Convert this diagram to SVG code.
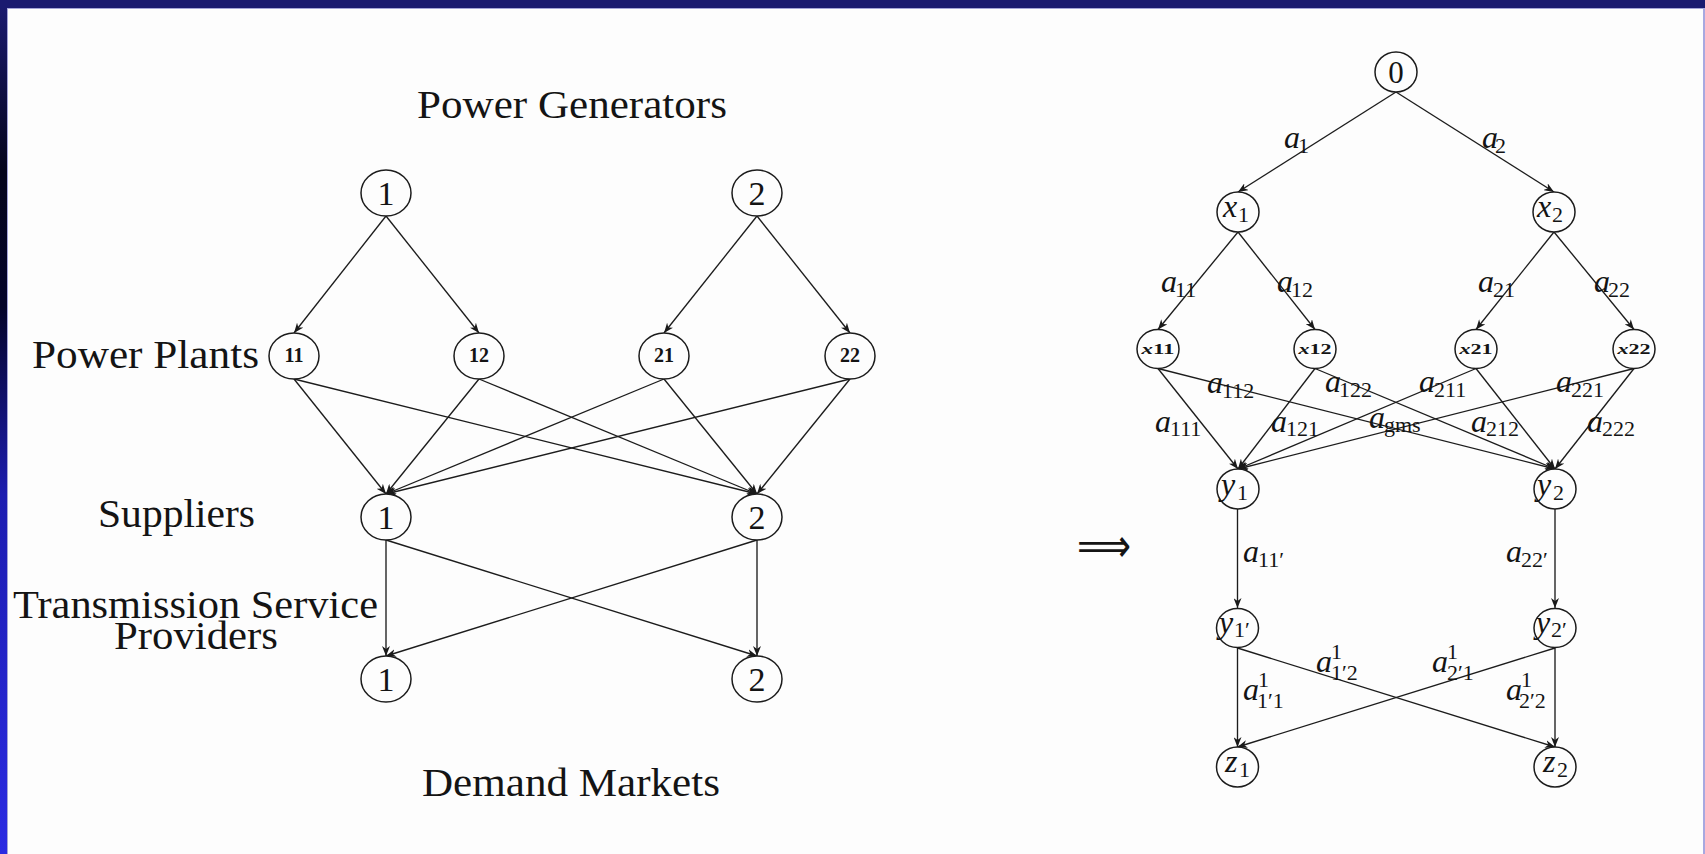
<svg xmlns="http://www.w3.org/2000/svg" width="1705" height="854" viewBox="0 0 1705 854">
  <defs>
    <linearGradient id="sideGrad" x1="0" y1="0" x2="0" y2="1">
      <stop offset="0" stop-color="#1b1b72"/>
      <stop offset="0.2" stop-color="#05051c"/>
      <stop offset="0.36" stop-color="#04042a"/>
      <stop offset="0.58" stop-color="#1d1db0"/>
      <stop offset="1" stop-color="#2b2be2"/>
    </linearGradient>
    <marker id="ah" viewBox="0 0 10 8" refX="10" refY="4" markerWidth="10" markerHeight="8" markerUnits="userSpaceOnUse" orient="auto">
      <path d="M0,0 L10,4 L0,8 L3,4 z" fill="#1a1a1a"/>
    </marker>
    <style>
      .nd { fill: #fdfdfd; stroke: #1c1c1c; stroke-width: 1.5; }
      .e { fill: none; stroke: #1c1c1c; stroke-width: 1.35; marker-end: url(#ah); }
      text { font-family: "Liberation Serif", "DejaVu Serif", serif; fill: #141414; }
      .cat { font-size: 40px; }
      .num { font-size: 34px; text-anchor: middle; }
      .tiny { font-size: 20px; font-weight: bold; text-anchor: middle; }
      .tinyx { font-size: 15px; font-weight: bold; text-anchor: middle; }
      .mi { font-size: 32px; font-style: italic; }
      .rm { font-size: 31px; text-anchor: middle; }
      .sb { font-size: 22px; }
      .arrow { font-family: "DejaVu Sans", sans-serif; font-size: 48px; }
    </style>
  </defs>

  <!-- page background and frame -->
  <rect x="0" y="0" width="1705" height="854" fill="#fdfdfd"/>
  <rect x="0" y="0" width="7" height="854" fill="url(#sideGrad)"/>
  <rect x="0" y="0" width="1705" height="8" fill="#1a1a70"/>
  <rect x="7" y="8" width="1" height="846" fill="#a4a4d8"/>
  <rect x="7" y="8" width="1698" height="1" fill="#a4a4d8"/>
  <rect x="1703" y="8" width="2" height="846" fill="#a8a8e0"/>

  <!-- layer captions of the supply chain network -->
  <g id="captions">
    <text class="cat" x="417" y="118" textLength="310" lengthAdjust="spacingAndGlyphs">Power Generators</text>
    <text class="cat" x="32" y="368" textLength="227" lengthAdjust="spacingAndGlyphs">Power Plants</text>
    <text class="cat" x="98" y="527" textLength="157" lengthAdjust="spacingAndGlyphs">Suppliers</text>
    <text class="cat" x="13" y="618" textLength="365" lengthAdjust="spacingAndGlyphs">Transmission Service</text>
    <text class="cat" x="114" y="649" textLength="164" lengthAdjust="spacingAndGlyphs">Providers</text>
    <text class="cat" x="422" y="796" textLength="298" lengthAdjust="spacingAndGlyphs">Demand Markets</text>
    <text class="arrow" x="1077" y="562" textLength="54" lengthAdjust="spacingAndGlyphs">⟹</text>
  </g>

  <!-- connectors -->
  <g id="connectors">
    <!-- left network -->
    <line class="e" x1="386" y1="216" x2="294" y2="333"/>
    <line class="e" x1="386" y1="216" x2="479" y2="333"/>
    <line class="e" x1="757" y1="216" x2="664" y2="333"/>
    <line class="e" x1="757" y1="216" x2="850" y2="333"/>
    <line class="e" x1="294" y1="379" x2="386" y2="494"/>
    <line class="e" x1="294" y1="379" x2="757" y2="494"/>
    <line class="e" x1="479" y1="379" x2="386" y2="494"/>
    <line class="e" x1="479" y1="379" x2="757" y2="494"/>
    <line class="e" x1="664" y1="379" x2="386" y2="494"/>
    <line class="e" x1="664" y1="379" x2="757" y2="494"/>
    <line class="e" x1="850" y1="379" x2="386" y2="494"/>
    <line class="e" x1="850" y1="379" x2="757" y2="494"/>
    <line class="e" x1="386" y1="540" x2="386" y2="656"/>
    <line class="e" x1="386" y1="540" x2="757" y2="656"/>
    <line class="e" x1="757" y1="540" x2="386" y2="656"/>
    <line class="e" x1="757" y1="540" x2="757" y2="656"/>
    <!-- right network -->
    <line class="e" x1="1396" y1="92" x2="1238" y2="192"/>
    <line class="e" x1="1396" y1="92" x2="1554" y2="192"/>
    <line class="e" x1="1238" y1="232" x2="1158" y2="329.5"/>
    <line class="e" x1="1238" y1="232" x2="1315" y2="329.5"/>
    <line class="e" x1="1554" y1="232" x2="1476" y2="329.5"/>
    <line class="e" x1="1554" y1="232" x2="1634" y2="329.5"/>
    <line class="e" x1="1158" y1="368.5" x2="1238" y2="469"/>
    <line class="e" x1="1158" y1="368.5" x2="1555" y2="469"/>
    <line class="e" x1="1315" y1="368.5" x2="1238" y2="469"/>
    <line class="e" x1="1315" y1="368.5" x2="1555" y2="469"/>
    <line class="e" x1="1476" y1="368.5" x2="1238" y2="469"/>
    <line class="e" x1="1476" y1="368.5" x2="1555" y2="469"/>
    <line class="e" x1="1634" y1="368.5" x2="1238" y2="469"/>
    <line class="e" x1="1634" y1="368.5" x2="1555" y2="469"/>
    <line class="e" x1="1237.5" y1="509" x2="1237.5" y2="608"/>
    <line class="e" x1="1555" y1="509" x2="1555" y2="608"/>
    <line class="e" x1="1237.5" y1="648" x2="1237.5" y2="747"/>
    <line class="e" x1="1237.5" y1="648" x2="1555" y2="747"/>
    <line class="e" x1="1555" y1="648" x2="1237.5" y2="747"/>
    <line class="e" x1="1555" y1="648" x2="1555" y2="747"/>
  </g>

  <!-- edge labels of the right network -->
  <g id="edge-labels">
    <text class="mi" x="1284" y="148">a</text><text class="sb" x="1298" y="153">1</text>
    <text class="mi" x="1482" y="148">a</text><text class="sb" x="1495" y="153">2</text>
    <text class="mi" x="1161" y="292">a</text><text class="sb" x="1175" y="297">11</text>
    <text class="mi" x="1277" y="292">a</text><text class="sb" x="1291" y="297">12</text>
    <text class="mi" x="1478" y="292">a</text><text class="sb" x="1493" y="297">21</text>
    <text class="mi" x="1594" y="292">a</text><text class="sb" x="1608" y="297">22</text>

    <text class="mi" x="1207" y="393">a</text><text class="sb" x="1222" y="398">112</text>
    <text class="mi" x="1325" y="392">a</text><text class="sb" x="1339" y="397">122</text>
    <text class="mi" x="1419" y="392">a</text><text class="sb" x="1434" y="397">211</text>
    <text class="mi" x="1556" y="392">a</text><text class="sb" x="1571" y="397">221</text>
    <text class="mi" x="1155" y="432">a</text><text class="sb" x="1170" y="436">111</text>
    <text class="mi" x="1271" y="432">a</text><text class="sb" x="1286" y="436">121</text>
    <text class="mi" x="1369" y="428">a</text><text class="sb" x="1384" y="432">gms</text>
    <text class="mi" x="1471" y="432">a</text><text class="sb" x="1486" y="436">212</text>
    <text class="mi" x="1587" y="432">a</text><text class="sb" x="1602" y="436">222</text>

    <text class="mi" x="1243" y="562">a</text><text class="sb" x="1258" y="567">11′</text>
    <text class="mi" x="1506" y="562">a</text><text class="sb" x="1521" y="567">22′</text>

    <text class="mi" x="1316" y="672">a</text><text class="sb" x="1331" y="659">1</text><text class="sb" x="1331" y="680">1′2</text>
    <text class="mi" x="1432" y="672">a</text><text class="sb" x="1447" y="659">1</text><text class="sb" x="1447" y="680">2′1</text>
    <text class="mi" x="1243" y="700">a</text><text class="sb" x="1258" y="687">1</text><text class="sb" x="1257" y="708">1′1</text>
    <text class="mi" x="1506" y="700">a</text><text class="sb" x="1521" y="687">1</text><text class="sb" x="1519" y="708">2′2</text>
  </g>

  <!-- left network nodes -->
  <g id="gen-1"><ellipse class="nd" cx="386" cy="193" rx="25" ry="23"/><text class="num" x="386" y="205">1</text></g>
  <g id="gen-2"><ellipse class="nd" cx="757" cy="193" rx="25" ry="23"/><text class="num" x="757" y="205">2</text></g>
  <g id="plant-11"><ellipse class="nd" cx="294" cy="356" rx="25" ry="23"/><text class="tiny" x="294" y="362">11</text></g>
  <g id="plant-12"><ellipse class="nd" cx="479" cy="356" rx="25" ry="23"/><text class="tiny" x="479" y="362">12</text></g>
  <g id="plant-21"><ellipse class="nd" cx="664" cy="356" rx="25" ry="23"/><text class="tiny" x="664" y="362">21</text></g>
  <g id="plant-22"><ellipse class="nd" cx="850" cy="356" rx="25" ry="23"/><text class="tiny" x="850" y="362">22</text></g>
  <g id="supplier-1"><ellipse class="nd" cx="386" cy="517" rx="25" ry="23"/><text class="num" x="386" y="529">1</text></g>
  <g id="supplier-2"><ellipse class="nd" cx="757" cy="517" rx="25" ry="23"/><text class="num" x="757" y="529">2</text></g>
  <g id="market-1"><ellipse class="nd" cx="386" cy="679" rx="25" ry="23"/><text class="num" x="386" y="691">1</text></g>
  <g id="market-2"><ellipse class="nd" cx="757" cy="679" rx="25" ry="23"/><text class="num" x="757" y="691">2</text></g>

  <!-- right network nodes -->
  <g id="n-0"><ellipse class="nd" cx="1396" cy="72" rx="21" ry="20"/><text class="rm" x="1396" y="83">0</text></g>
  <g id="n-x1"><ellipse class="nd" cx="1238" cy="212" rx="21" ry="20"/><text class="mi" x="1223" y="217">x</text><text class="sb" x="1238" y="222">1</text></g>
  <g id="n-x2"><ellipse class="nd" cx="1554" cy="212" rx="21" ry="20"/><text class="mi" x="1537" y="217">x</text><text class="sb" x="1552" y="222">2</text></g>
  <g id="n-x11"><ellipse class="nd" cx="1158" cy="349" rx="21" ry="19.5"/><text class="tinyx" x="1158" y="354" textLength="33" lengthAdjust="spacingAndGlyphs"><tspan font-style="italic">x</tspan>11</text></g>
  <g id="n-x12"><ellipse class="nd" cx="1315" cy="349" rx="21" ry="19.5"/><text class="tinyx" x="1315" y="354" textLength="33" lengthAdjust="spacingAndGlyphs"><tspan font-style="italic">x</tspan>12</text></g>
  <g id="n-x21"><ellipse class="nd" cx="1476" cy="349" rx="21" ry="19.5"/><text class="tinyx" x="1476" y="354" textLength="33" lengthAdjust="spacingAndGlyphs"><tspan font-style="italic">x</tspan>21</text></g>
  <g id="n-x22"><ellipse class="nd" cx="1634" cy="349" rx="21" ry="19.5"/><text class="tinyx" x="1634" y="354" textLength="33" lengthAdjust="spacingAndGlyphs"><tspan font-style="italic">x</tspan>22</text></g>
  <g id="n-y1"><ellipse class="nd" cx="1238" cy="489" rx="21" ry="20"/><text class="mi" x="1221" y="495">y</text><text class="sb" x="1237" y="500">1</text></g>
  <g id="n-y2"><ellipse class="nd" cx="1555" cy="489" rx="21" ry="20"/><text class="mi" x="1537" y="495">y</text><text class="sb" x="1553" y="500">2</text></g>
  <g id="n-y1p"><ellipse class="nd" cx="1237.5" cy="628" rx="21" ry="19.5"/><text class="mi" x="1219" y="633">y</text><text class="sb" x="1234" y="637">1′</text></g>
  <g id="n-y2p"><ellipse class="nd" cx="1555" cy="628" rx="21" ry="19.5"/><text class="mi" x="1536" y="633">y</text><text class="sb" x="1551" y="637">2′</text></g>
  <g id="n-z1"><ellipse class="nd" cx="1237.5" cy="767" rx="21" ry="20"/><text class="mi" x="1225" y="772">z</text><text class="sb" x="1239" y="777">1</text></g>
  <g id="n-z2"><ellipse class="nd" cx="1555" cy="767" rx="21" ry="20"/><text class="mi" x="1543" y="772">z</text><text class="sb" x="1557" y="777">2</text></g>
</svg>
